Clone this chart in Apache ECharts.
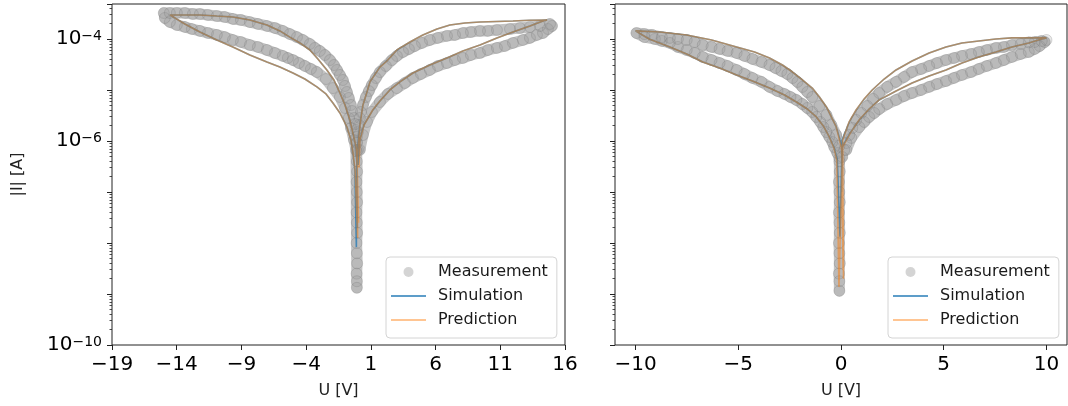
<!DOCTYPE html>
<html>
<head>
<meta charset="utf-8">
<script src="https://cdn.jsdelivr.net/npm/echarts@6/dist/echarts.min.js"></script>
<style>
  html, body { margin: 0; padding: 0; background: #fff; }
  #chart { width: 1068px; height: 406px; }
</style>
</head>
<body>
<div id="chart"></div>
<script>
// tick labels
const leftXTicks = [-19, -14, -9, -4, 1, 6, 11, 16]
const rightXTicks = [-10, -5, 0, 5, 10]
const yTickExps = [-10, -6, -4]
const legendNames = ['Measurement', 'Simulation', 'Prediction']

// left panel, [U (V), |I| (A)] in sweep order
const leftMeas = [
  [0.15, 6.67e-7], [0.39, 1.31e-6], [0.70, 2.36e-6], [1.08, 3.71e-6], [1.70, 5.82e-6], [2.32, 8.36e-6],
  [3.01, 1.09e-5], [3.63, 1.37e-5], [4.25, 1.72e-5], [4.87, 2.06e-5], [5.56, 2.47e-5], [6.18, 2.96e-5],
  [6.88, 3.38e-5], [7.50, 3.87e-5], [8.11, 4.24e-5], [8.73, 4.85e-5], [9.43, 5.31e-5], [10.05, 6.08e-5],
  [10.74, 6.67e-5], [11.36, 7.29e-5], [11.98, 8.36e-5], [12.75, 9.55e-5], [13.29, 1.05e-4], [13.83, 1.20e-4],
  [14.30, 1.31e-4], [14.68, 1.57e-4], [15.0, 1.80e-4],
  [14.84, 1.97e-4], [14.07, 1.80e-4], [13.29, 1.72e-4], [12.52, 1.64e-4], [11.75, 1.57e-4], [10.74, 1.50e-4],
  [10.05, 1.44e-4], [9.43, 1.44e-4], [8.73, 1.37e-4], [8.11, 1.31e-4], [7.50, 1.20e-4], [6.88, 1.15e-4],
  [6.18, 1.05e-4], [5.56, 9.55e-5], [4.95, 8.36e-5], [4.40, 7.29e-5], [3.94, 6.37e-5], [3.48, 5.56e-5],
  [3.01, 4.65e-5], [2.63, 3.87e-5], [2.16, 2.96e-5], [1.70, 2.25e-5], [1.39, 1.72e-5], [1.08, 1.25e-5],
  [0.85, 9.55e-6], [0.62, 7.29e-6], [0.39, 5.08e-6], [0.23, 3.71e-6], [0.15, 2.82e-6], [0.08, 2.06e-6],
  [0.0, 1.50e-6],
  [-0.08, 9.5e-7], [-0.1, 6.31e-7], [-0.08, 3.98e-7], [-0.06, 2.51e-7], [-0.1, 1.58e-7], [-0.08, 1.0e-7],
  [-0.06, 6.31e-8], [-0.1, 3.98e-8], [-0.08, 2.51e-8], [-0.06, 1.58e-8], [-0.1, 1.0e-8], [-0.08, 6.31e-9],
  [-0.06, 3.98e-9], [-0.1, 2.51e-9], [-0.08, 1.78e-9], [-0.08, 1.32e-9],
  [-0.15, 6.67e-7], [-0.31, 1.05e-6], [-0.54, 1.80e-6], [-0.70, 2.82e-6], [-1.00, 4.44e-6], [-1.39, 7.29e-6],
  [-1.93, 1.09e-5], [-2.47, 1.64e-5], [-3.17, 2.25e-5], [-3.63, 2.58e-5], [-4.10, 2.96e-5], [-4.56, 3.38e-5],
  [-5.02, 3.87e-5], [-5.41, 4.24e-5], [-5.80, 4.65e-5], [-6.41, 5.31e-5], [-7.03, 6.08e-5], [-7.73, 6.97e-5],
  [-8.35, 7.62e-5], [-9.04, 8.73e-5], [-9.66, 9.55e-5], [-10.28, 1.09e-4], [-10.90, 1.20e-4], [-11.59, 1.31e-4],
  [-12.21, 1.44e-4], [-12.83, 1.57e-4], [-13.37, 1.72e-4], [-13.99, 1.88e-4], [-14.53, 2.15e-4], [-14.92, 2.58e-4],
  [-15.0, 3.24e-4], [-14.53, 3.24e-4], [-13.99, 3.24e-4], [-13.37, 3.24e-4], [-12.75, 3.09e-4], [-12.21, 3.09e-4],
  [-11.59, 2.96e-4], [-10.90, 2.82e-4], [-10.28, 2.70e-4], [-9.66, 2.47e-4], [-9.04, 2.36e-4], [-8.35, 2.15e-4],
  [-7.73, 1.97e-4], [-7.03, 1.80e-4], [-6.41, 1.64e-4], [-5.80, 1.44e-4], [-5.26, 1.25e-4], [-4.71, 1.09e-4],
  [-4.25, 9.55e-5], [-3.71, 7.98e-5], [-3.32, 6.67e-5], [-2.94, 5.82e-5], [-2.55, 4.85e-5], [-2.16, 3.87e-5],
  [-1.85, 3.09e-5], [-1.62, 2.47e-5], [-1.39, 1.97e-5], [-1.16, 1.57e-5], [-1.00, 1.20e-5], [-0.85, 9.14e-6],
  [-0.70, 6.97e-6], [-0.54, 5.08e-6], [-0.46, 3.87e-6], [-0.31, 2.82e-6], [-0.23, 2.15e-6], [-0.15, 1.64e-6],
  [-0.08, 1.20e-6], [-0.08, 9.14e-7], [0.0, 6.67e-7]
]

const leftSim = [
  [0.02, 3.38e-7], [0.15, 1.05e-6], [0.46, 2.06e-6], [1.16, 4.06e-6], [1.70, 6.08e-6], [2.47, 1.0e-5],
  [3.25, 1.44e-5], [4.25, 2.15e-5], [5.56, 3.09e-5], [6.88, 4.24e-5], [8.11, 5.82e-5], [9.43, 7.62e-5],
  [10.74, 1.05e-4], [11.98, 1.37e-4], [13.29, 1.80e-4], [14.30, 2.25e-4], [14.61, 2.36e-4],
  [13.29, 2.33e-4], [11.98, 2.25e-4], [10.74, 2.20e-4], [9.43, 2.15e-4], [8.27, 2.06e-4], [7.11, 1.88e-4],
  [6.11, 1.57e-4], [5.02, 1.20e-4], [4.02, 8.73e-5], [3.01, 6.08e-5], [2.24, 3.71e-5], [1.70, 2.82e-5],
  [0.93, 1.44e-5], [0.70, 9.14e-6], [0.39, 5.08e-6], [0.15, 2.06e-6], [0.0, 8.36e-7], [-0.08, 4.24e-7],
  [-0.12, 8.3e-9],
  [-0.23, 2.70e-7], [-0.39, 5.82e-7], [-0.54, 1.05e-6], [-0.85, 1.88e-6], [-1.39, 3.54e-6], [-1.93, 5.56e-6],
  [-2.47, 8.36e-6], [-3.17, 1.15e-5], [-4.10, 1.64e-5], [-5.02, 2.15e-5], [-6.03, 2.82e-5], [-7.03, 3.54e-5],
  [-8.35, 4.85e-5], [-9.66, 6.97e-5], [-10.90, 9.55e-5], [-12.21, 1.37e-4], [-13.37, 1.97e-4], [-14.53, 2.96e-4],
  [-13.37, 2.96e-4], [-12.21, 2.96e-4], [-10.90, 2.82e-4], [-9.66, 2.70e-4], [-8.35, 2.36e-4], [-7.03, 1.88e-4],
  [-6.03, 1.44e-4], [-5.26, 1.09e-4], [-4.48, 8.36e-5], [-3.71, 6.08e-5], [-3.09, 4.06e-5], [-2.40, 2.47e-5],
  [-1.85, 1.57e-5], [-1.39, 8.73e-6], [-1.00, 5.08e-6], [-0.62, 2.58e-6], [-0.39, 1.44e-6], [-0.15, 7.62e-7],
  [-0.08, 3.38e-7], [-0.05, 2.0e-8]
]

const leftPred = [
  [0.08, 3.0e-7], [0.16, 1.05e-6], [0.47, 2.06e-6], [1.16, 4.1e-6], [1.70, 6.1e-6], [2.47, 1.0e-5],
  [3.25, 1.44e-5], [4.25, 2.15e-5], [5.56, 3.1e-5], [6.88, 4.24e-5], [8.11, 5.8e-5], [9.43, 7.6e-5],
  [10.74, 1.05e-4], [11.98, 1.37e-4], [13.29, 1.80e-4], [14.30, 2.25e-4], [14.61, 2.36e-4],
  [13.29, 2.33e-4], [11.98, 2.25e-4], [10.74, 2.20e-4], [9.43, 2.15e-4], [8.27, 2.06e-4], [7.11, 1.88e-4],
  [6.11, 1.57e-4], [5.02, 1.20e-4], [4.02, 8.7e-5], [3.01, 6.1e-5], [2.24, 3.7e-5], [1.70, 2.8e-5],
  [0.93, 1.44e-5], [0.70, 9.1e-6], [0.39, 5.1e-6], [0.16, 2.1e-6], [0.02, 8.4e-7], [-0.06, 4.2e-7],
  [-0.02, 1.26e-8],
  [-0.22, 2.7e-7], [-0.38, 5.8e-7], [-0.54, 1.05e-6], [-0.85, 1.88e-6], [-1.39, 3.54e-6], [-1.93, 5.56e-6],
  [-2.47, 8.4e-6], [-3.17, 1.15e-5], [-4.10, 1.64e-5], [-5.02, 2.15e-5], [-6.03, 2.82e-5], [-7.03, 3.54e-5],
  [-8.35, 4.85e-5], [-9.66, 6.97e-5], [-10.90, 9.55e-5], [-12.21, 1.37e-4], [-13.37, 1.97e-4], [-14.53, 2.96e-4],
  [-13.37, 2.96e-4], [-12.21, 2.96e-4], [-10.90, 2.82e-4], [-9.66, 2.70e-4], [-8.35, 2.36e-4], [-7.03, 1.88e-4],
  [-6.03, 1.44e-4], [-5.26, 1.09e-4], [-4.48, 8.36e-5], [-3.71, 6.08e-5], [-3.09, 4.06e-5], [-2.40, 2.47e-5],
  [-1.85, 1.57e-5], [-1.39, 8.73e-6], [-1.00, 5.08e-6], [-0.62, 2.58e-6], [-0.39, 1.44e-6], [-0.14, 7.6e-7],
  [-0.06, 3.4e-7], [0.05, 2.5e-8]
]

// right panel
const rightMeas = [
  [0.26, 6.67e-7], [0.50, 1.15e-6], [0.89, 1.88e-6], [1.13, 2.36e-6], [1.37, 2.96e-6], [1.62, 3.54e-6],
  [1.86, 4.24e-6], [2.25, 5.31e-6], [2.68, 6.37e-6], [3.07, 7.62e-6], [3.46, 8.73e-6], [3.90, 1.0e-5],
  [4.29, 1.15e-5], [4.67, 1.31e-5], [5.11, 1.50e-5], [5.50, 1.72e-5], [5.89, 1.97e-5], [6.33, 2.25e-5],
  [6.71, 2.58e-5], [7.10, 2.96e-5], [7.54, 3.38e-5], [7.93, 3.87e-5], [8.32, 4.44e-5], [8.75, 5.08e-5],
  [9.14, 5.56e-5], [9.43, 6.37e-5], [9.67, 7.29e-5], [9.92, 8.73e-5],
  [10.0, 9.55e-5], [9.77, 9.14e-5], [9.43, 8.73e-5], [9.14, 8.60e-5], [8.75, 7.98e-5], [8.32, 7.62e-5],
  [7.93, 6.97e-5], [7.54, 6.67e-5], [7.10, 6.08e-5], [6.71, 5.56e-5], [6.33, 5.08e-5], [5.89, 4.65e-5],
  [5.50, 4.24e-5], [5.11, 3.87e-5], [4.67, 3.38e-5], [4.29, 2.96e-5], [3.90, 2.58e-5], [3.46, 2.25e-5],
  [3.07, 1.80e-5], [2.68, 1.44e-5], [2.25, 1.15e-5], [1.86, 8.73e-6], [1.56, 6.67e-6], [1.28, 4.85e-6],
  [0.99, 3.54e-6], [0.74, 2.58e-6], [0.55, 1.80e-6], [0.40, 1.31e-6], [0.26, 9.14e-7], [0.16, 6.67e-7],
  [-0.08, 3.98e-7], [-0.06, 2.51e-7], [-0.1, 1.58e-7], [-0.08, 1.0e-7], [-0.06, 6.31e-8], [-0.1, 3.98e-8],
  [-0.08, 2.51e-8], [-0.06, 1.58e-8], [-0.1, 1.0e-8], [-0.08, 6.31e-9], [-0.06, 3.98e-9], [-0.1, 2.51e-9],
  [-0.08, 1.78e-9], [-0.08, 1.15e-9],
  [-0.08, 4.65e-7], [-0.18, 5.82e-7], [-0.33, 7.62e-7], [-0.42, 9.55e-7], [-0.57, 1.20e-6], [-0.71, 1.50e-6],
  [-0.86, 1.88e-6], [-1.01, 2.36e-6], [-1.20, 2.96e-6], [-1.40, 3.71e-6], [-1.64, 4.44e-6], [-1.88, 5.31e-6],
  [-2.17, 6.37e-6], [-2.46, 7.29e-6], [-2.75, 8.36e-6], [-3.09, 9.55e-6], [-3.48, 1.15e-5], [-3.87, 1.44e-5],
  [-4.31, 1.72e-5], [-4.70, 2.06e-5], [-5.08, 2.47e-5], [-5.52, 2.96e-5], [-5.91, 3.38e-5], [-6.30, 3.87e-5],
  [-6.73, 4.44e-5], [-7.12, 5.31e-5], [-7.51, 6.08e-5], [-7.94, 6.97e-5], [-8.33, 8.36e-5], [-8.72, 9.14e-5],
  [-9.06, 1.0e-4], [-9.57, 1.09e-4],
  [-9.96, 1.31e-4], [-9.57, 1.25e-4], [-9.19, 1.20e-4], [-8.72, 1.09e-4], [-8.33, 1.05e-4], [-7.94, 1.0e-4],
  [-7.51, 9.55e-5], [-7.12, 8.73e-5], [-6.73, 7.62e-5], [-6.30, 6.97e-5], [-5.91, 6.37e-5], [-5.52, 5.82e-5],
  [-5.08, 5.31e-5], [-4.70, 4.65e-5], [-4.31, 4.06e-5], [-3.87, 3.54e-5], [-3.48, 3.09e-5], [-3.19, 2.70e-5],
  [-2.90, 2.36e-5], [-2.61, 2.06e-5], [-2.36, 1.72e-5], [-2.12, 1.44e-5], [-1.88, 1.15e-5], [-1.64, 9.14e-6],
  [-1.40, 7.29e-6], [-1.05, 4.85e-6], [-0.71, 3.24e-6], [-0.47, 2.06e-6], [-0.23, 1.31e-6], [-0.08, 7.98e-7],
  [0.06, 4.85e-7]
]

const rightSim = [
  [0.02, 2.0e-7], [0.06, 7.62e-7], [0.45, 1.44e-6], [0.89, 2.58e-6], [1.37, 4.24e-6], [1.86, 6.37e-6],
  [2.68, 9.55e-6], [3.46, 1.37e-5], [4.29, 1.88e-5], [5.11, 2.47e-5], [5.89, 3.38e-5], [6.71, 4.44e-5],
  [7.54, 5.56e-5], [8.32, 6.97e-5], [9.14, 8.36e-5], [9.77, 1.0e-4], [10.0, 1.05e-4],
  [9.14, 1.05e-4], [8.32, 1.05e-4], [7.54, 1.0e-4], [6.71, 9.14e-5], [5.89, 8.36e-5], [5.11, 6.97e-5],
  [4.29, 5.31e-5], [3.46, 3.71e-5], [2.68, 2.47e-5], [2.10, 1.64e-5], [1.52, 1.0e-5], [1.13, 6.67e-6],
  [0.74, 4.06e-6], [0.40, 2.36e-6], [0.06, 1.05e-6],
  [-0.05, 1.32e-8],
  [-0.18, 4.24e-7], [-0.33, 7.29e-7], [-0.57, 1.20e-6], [-0.86, 1.97e-6], [-1.20, 2.96e-6], [-1.64, 4.24e-6],
  [-2.17, 5.82e-6], [-2.75, 7.98e-6], [-3.48, 1.09e-5], [-4.31, 1.50e-5], [-5.08, 1.97e-5], [-5.91, 2.70e-5],
  [-6.73, 3.54e-5], [-7.51, 5.08e-5], [-8.33, 6.97e-5], [-9.34, 1.0e-4], [-10.0, 1.44e-4],
  [-8.82, 1.37e-4], [-7.51, 1.20e-4], [-6.30, 9.55e-5], [-5.08, 6.97e-5], [-4.21, 5.56e-5], [-3.48, 4.24e-5],
  [-2.85, 3.09e-5], [-2.36, 2.25e-5], [-1.88, 1.57e-5], [-1.40, 1.09e-5], [-1.05, 7.29e-6], [-0.71, 4.65e-6],
  [-0.47, 2.96e-6], [-0.23, 1.88e-6], [-0.08, 1.15e-6], [0.06, 6.67e-7], [0.02, 1.0e-7]
]

const rightPred = [
  [0.12, 2.0e-9], [0.08, 7.6e-7], [0.46, 1.44e-6], [0.89, 2.6e-6], [1.37, 4.24e-6], [1.86, 6.4e-6],
  [2.68, 9.55e-6], [3.46, 1.37e-5], [4.29, 1.88e-5], [5.11, 2.47e-5], [5.89, 3.38e-5], [6.71, 4.44e-5],
  [7.54, 5.56e-5], [8.32, 6.97e-5], [9.14, 8.36e-5], [9.77, 1.0e-4], [10.0, 1.05e-4],
  [9.14, 1.05e-4], [8.32, 1.05e-4], [7.54, 1.0e-4], [6.71, 9.14e-5], [5.89, 8.36e-5], [5.11, 6.97e-5],
  [4.29, 5.31e-5], [3.46, 3.71e-5], [2.68, 2.47e-5], [2.10, 1.64e-5], [1.52, 1.0e-5], [1.13, 6.7e-6],
  [0.74, 4.1e-6], [0.40, 2.4e-6], [0.08, 1.05e-6],
  [-0.1, 1.38e-9],
  [-0.2, 4.2e-7], [-0.34, 7.3e-7], [-0.57, 1.20e-6], [-0.86, 1.97e-6], [-1.20, 2.96e-6], [-1.64, 4.24e-6],
  [-2.17, 5.82e-6], [-2.75, 7.98e-6], [-3.48, 1.09e-5], [-4.31, 1.50e-5], [-5.08, 1.97e-5], [-5.91, 2.70e-5],
  [-6.73, 3.54e-5], [-7.51, 5.08e-5], [-8.33, 6.97e-5], [-9.34, 1.0e-4], [-10.0, 1.44e-4],
  [-8.82, 1.37e-4], [-7.51, 1.20e-4], [-6.30, 9.55e-5], [-5.08, 6.97e-5], [-4.21, 5.56e-5], [-3.48, 4.24e-5],
  [-2.85, 3.09e-5], [-2.36, 2.25e-5], [-1.88, 1.57e-5], [-1.40, 1.09e-5], [-1.05, 7.29e-6], [-0.71, 4.65e-6],
  [-0.47, 2.96e-6], [-0.23, 1.88e-6], [-0.1, 1.15e-6], [0.04, 6.7e-7], [0.1, 3.0e-9]
]

const FONT = "'DejaVu Sans', sans-serif"
const Y_MIN = 1e-10
const Y_MAX = 4.85e-4

const minorTicks = []
for (let e = -10; e <= -4; e++) {
  for (let k = 2; k <= 9; k++) minorTicks.push(Math.log10(k) + e)
}

const chart = echarts.init(document.getElementById('chart'), null, { renderer: 'canvas' })

function xAxisFor(gridIndex, min, max, ticks) {
  return {
    type: 'value',
    gridIndex,
    min,
    max,
    position: 'bottom',
    name: 'U [V]',
    nameLocation: 'middle',
    nameGap: 38,
    nameTextStyle: { fontSize: 16, fontFamily: FONT, color: '#222' },
    axisLine: { show: false, onZero: false },
    axisTick: { show: true, length: 5, inside: false, customValues: ticks, lineStyle: { color: '#222', width: 1 } },
    axisLabel: {
      customValues: ticks,
      margin: 10,
      fontSize: 20,
      fontFamily: FONT,
      color: '#000',
      formatter: v => String(v).replace('-', '\u2212')
    },
    splitLine: { show: false }
  }
}

function yAxisFor(gridIndex, showLabels) {
  return {
    type: 'log',
    logBase: 10,
    gridIndex,
    position: 'left',
    min: Y_MIN,
    max: Y_MAX,
    interval: 1,
    name: showLabels ? '|I| [A]' : '',
    nameLocation: 'middle',
    nameGap: 86,
    nameRotate: 90,
    nameTextStyle: { fontSize: 16, fontFamily: FONT, color: '#222' },
    axisLine: { show: false, onZero: false },
    axisTick: { show: true, length: 5, lineStyle: { color: '#222', width: 1 } },
    axisLabel: {
      show: showLabels,
      margin: 10,
      formatter: v => {
        const lg = Math.log10(v)
        const e = Math.round(lg)
        if (Math.abs(lg - e) > 1e-6 || !yTickExps.includes(e)) return ''
        return '{b|10}{s|\u2212' + Math.abs(e) + '}'
      },
      rich: {
        b: { fontSize: 20, fontFamily: FONT, color: '#000', verticalAlign: 'middle' },
        s: { fontSize: 14, fontFamily: FONT, color: '#000', lineHeight: 14, padding: [0, 0, 14, 0], verticalAlign: 'top' }
      }
    },
    splitLine: { show: false }
  }
}

function minorAxisFor(gridIndex) {
  return {
    type: 'value',
    gridIndex,
    position: 'left',
    offset: 0,
    min: -10,
    max: Math.log10(Y_MAX),
    axisLine: { show: false, onZero: false },
    axisTick: { show: true, length: 2.5, customValues: minorTicks, lineStyle: { color: '#222', width: 0.8 } },
    axisLabel: { show: false },
    splitLine: { show: false }
  }
}

function legendFor(left) {
  return {
    orient: 'vertical',
    left,
    top: 257,
    itemWidth: 35,
    itemHeight: 10,
    itemGap: 8,
    padding: [7, 9, 10, 5],
    backgroundColor: '#fff',
    borderColor: '#d4d4d4',
    borderWidth: 1,
    borderRadius: 4,
    textStyle: { fontSize: 16, fontFamily: FONT, color: '#1a1a1a', padding: [0, 0, 0, 7] },
    data: [
      { name: legendNames[0], icon: 'circle', itemStyle: { color: '#c9c9c9', borderWidth: 0 } },
      { name: legendNames[1], icon: 'path://M0,0 L35,0 L35,2 L0,2 Z', itemStyle: { color: 'rgba(31,119,180,0.72)' } },
      { name: legendNames[2], icon: 'path://M0,0 L35,0 L35,2 L0,2 Z', itemStyle: { color: 'rgba(255,127,14,0.45)' } }
    ]
  }
}

function seriesFor(xi, yi, meas, sim, pred) {
  return [
    {
      name: 'band' + xi,
      type: 'line',
      xAxisIndex: xi,
      yAxisIndex: yi,
      data: meas,
      symbol: 'none',
      silent: true,
      z: 1,
      lineStyle: { color: 'rgba(135,135,135,0.5)', width: 11, cap: 'round', join: 'round' }
    },
    {
      name: 'Measurement',
      type: 'scatter',
      xAxisIndex: xi,
      yAxisIndex: yi,
      data: meas,
      symbol: 'circle',
      symbolSize: 11,
      z: 2,
      itemStyle: { color: 'rgba(150,150,150,0.25)', borderColor: 'rgba(110,110,110,0.4)', borderWidth: 0.8 }
    },
    {
      name: 'Simulation',
      type: 'line',
      xAxisIndex: xi,
      yAxisIndex: yi,
      data: sim,
      symbol: 'none',
      showSymbol: false,
      z: 3,
      itemStyle: { color: '#1f77b4' },
      lineStyle: { color: '#1f77b4', width: 1.6, opacity: 0.75 }
    },
    {
      name: 'Prediction',
      type: 'line',
      xAxisIndex: xi,
      yAxisIndex: yi,
      data: pred,
      symbol: 'none',
      showSymbol: false,
      z: 4,
      itemStyle: { color: '#ff7f0e' },
      lineStyle: { color: '#ff7f0e', width: 1.6, opacity: 0.5 }
    }
  ]
}

chart.setOption({
  animation: false,
  backgroundColor: '#fff',
  grid: [
    { left: 112, top: 4, width: 453, height: 341, show: true, borderColor: '#222', borderWidth: 1, backgroundColor: 'transparent' },
    { left: 615, top: 4, width: 452, height: 341, show: true, borderColor: '#222', borderWidth: 1, backgroundColor: 'transparent' }
  ],
  xAxis: [
    xAxisFor(0, -19, 16, leftXTicks),
    xAxisFor(1, -11, 11, rightXTicks)
  ],
  yAxis: [
    yAxisFor(0, true),
    minorAxisFor(0),
    yAxisFor(1, false),
    minorAxisFor(1)
  ],
  legend: [legendFor(386), legendFor(888)],
  series: [
    ...seriesFor(0, 0, leftMeas, leftSim, leftPred),
    ...seriesFor(1, 2, rightMeas, rightSim, rightPred)
  ]
})
</script>
</body>
</html>
